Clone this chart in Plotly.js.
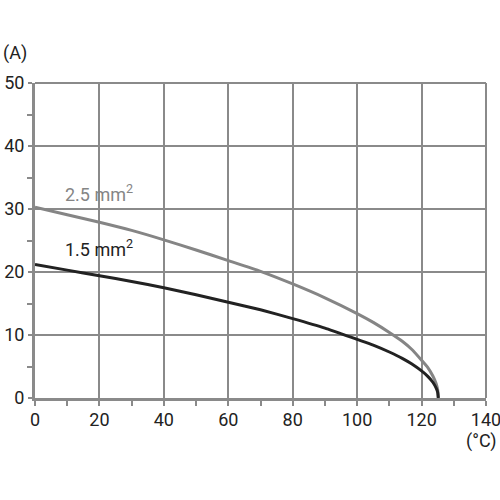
<!DOCTYPE html>
<html>
<head>
<meta charset="utf-8">
<script src="https://cdn.plot.ly/plotly-3.0.1.min.js"></script>
<style>html,body{margin:0;padding:0;background:#fff}#chart{width:500px;height:500px}</style>
</head>
<body>
<div id="chart"></div>
<script>
// Temperature (°C) sample points and current (A)
var tempGray = [0, 10, 20, 30, 40, 50, 60, 70, 80, 90, 100, 105, 110, 114, 117, 120, 122, 123.5, 124.5, 125, 125.2];
var curr25 = [30.3, 29.1, 27.9, 26.6, 25.1, 23.5, 21.8, 20.1, 18.1, 15.9, 13.4, 12.0, 10.4, 9.0, 7.7, 6.0, 4.8, 3.5, 2.3, 1.3, 0];
var tempBlack = [0, 10, 20, 30, 40, 50, 60, 70, 80, 90, 100, 105, 110, 114, 117, 120, 122, 123.5, 124.5, 125, 125.2];
var curr15 = [21.2, 20.3, 19.4, 18.5, 17.5, 16.4, 15.2, 14.0, 12.6, 11.1, 9.3, 8.4, 7.3, 6.3, 5.4, 4.3, 3.4, 2.5, 1.6, 0.9, 0];
var labels = ["2.5 mm<sup>2</sup>", "1.5 mm<sup>2</sup>"];
var xTicks = [0, 20, 40, 60, 80, 100, 120, 140];
var yTicks = [0, 10, 20, 30, 40, 50];

var FONT = '"Liberation Sans Narrow", Roboto, "Open Sans", sans-serif';
var GRID = '#8a8a8a';

var traces = [
  {x: tempGray, y: curr25, mode: 'lines', line: {color: '#858585', width: 3, shape: 'spline', smoothing: 0.5}, hoverinfo: 'none'},
  {x: tempBlack, y: curr15, mode: 'lines', line: {color: '#222222', width: 3, shape: 'spline', smoothing: 0.5}, hoverinfo: 'none'}
];

var layout = {
  width: 500, height: 500,
  margin: {l: 35, r: 14, t: 83, b: 102},
  paper_bgcolor: '#fff', plot_bgcolor: '#fff',
  showlegend: false,
  font: {family: FONT, size: 18, color: '#222'},
  xaxis: {
    range: [0, 140], tickvals: xTicks, ticktext: xTicks.map(String),
    showgrid: true, gridcolor: GRID, gridwidth: 2,
    showline: true, linecolor: GRID, linewidth: 3,
    zeroline: false, ticks: '', ticklabelstandoff: 3,
    ticklabeloverflow: 'allow',
    minor: {dtick: 10, tick0: 0, ticks: 'outside', ticklen: 5, tickcolor: GRID, tickwidth: 2, showgrid: false},
    fixedrange: true
  },
  yaxis: {
    range: [0, 50], tickvals: yTicks, ticktext: yTicks.map(String),
    showgrid: true, gridcolor: GRID, gridwidth: 2,
    showline: true, linecolor: GRID, linewidth: 3,
    zeroline: false, ticks: 'outside', ticklen: 4, tickcolor: GRID, tickwidth: 2,
    ticklabeloverflow: 'allow',
    minor: {dtick: 10, tick0: 5, ticks: 'outside', ticklen: 5, tickcolor: GRID, tickwidth: 2, showgrid: false},
    fixedrange: true
  },
  shapes: [
    {type: 'line', xref: 'paper', yref: 'paper', x0: 0, x1: 1, y0: 1, y1: 1, line: {color: GRID, width: 2}},
    {type: 'line', xref: 'paper', yref: 'paper', x0: 1, x1: 1, y0: 0, y1: 1, line: {color: GRID, width: 2}}
  ],
  annotations: [
    {x: 20, y: 32.6, xref: 'x', yref: 'y', text: labels[0], showarrow: false, font: {size: 18, color: '#858585'}},
    {x: 20, y: 23.8, xref: 'x', yref: 'y', text: labels[1], showarrow: false, font: {size: 18, color: '#222'}},
    {x: 0, y: 1, xref: 'paper', yref: 'paper', text: '(A)', showarrow: false, xanchor: 'left', yanchor: 'middle', font: {size: 18}, xshift: -34, yshift: 30},
    {x: 1, y: 0, xref: 'paper', yref: 'paper', text: '(°C)', showarrow: false, xanchor: 'right', yanchor: 'top', font: {size: 18}, xshift: 13, yshift: -30}
  ]
};

Plotly.newPlot('chart', traces, layout, {staticPlot: true});
</script>
</body>
</html>
